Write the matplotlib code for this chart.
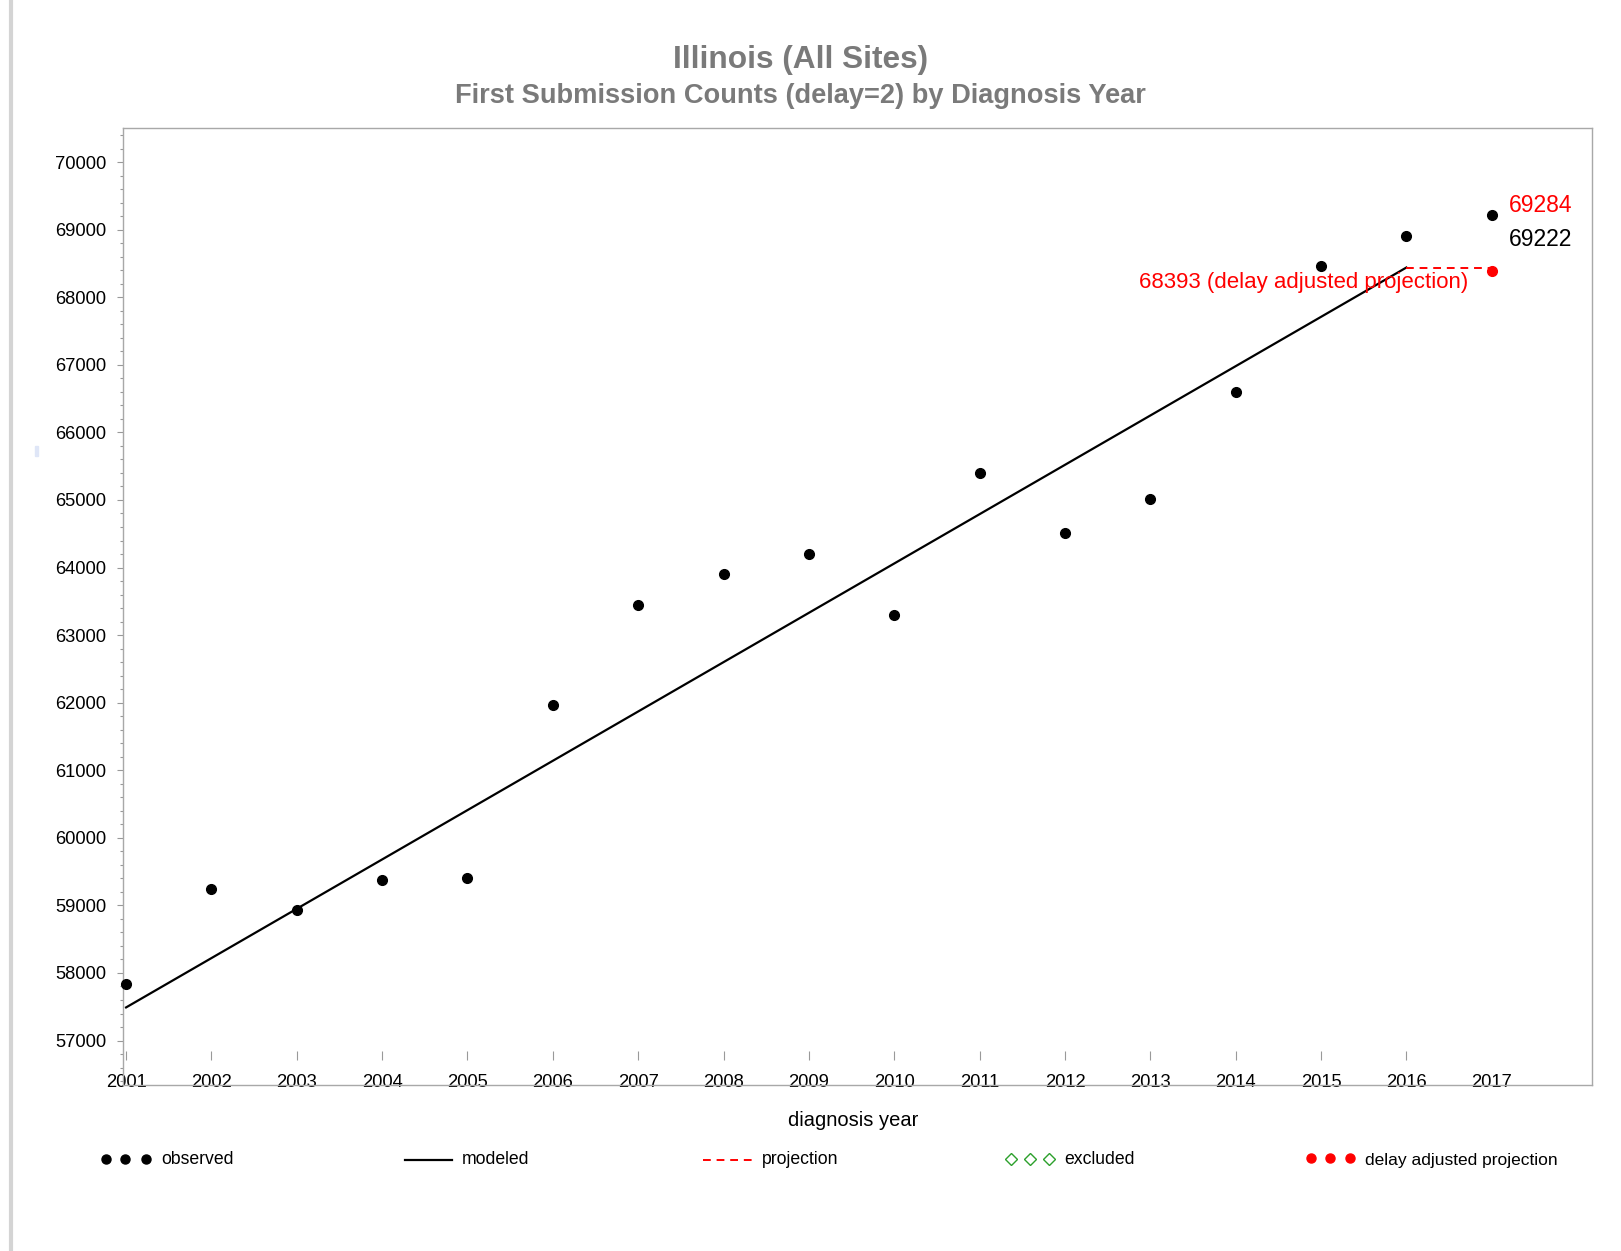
import numpy as np
import matplotlib
matplotlib.use("Agg")
import matplotlib.pyplot as plt
from matplotlib.ticker import MultipleLocator
import matplotlib.transforms as mtransforms

plt.rcParams['font.family'] = ['Liberation Sans', 'DejaVu Sans']

# Data
years = list(range(2001, 2018))
observed = [57840, 59250, 58930, 59370, 59400, 61970, 63450, 63900, 64200,
            63300, 65400, 64510, 65010, 66600, 68470, 68900, 69222]
model_years = list(range(2001, 2017))
modeled = [57490, 58220, 58950, 59680, 60410, 61140, 61870, 62600, 63330,
           64060, 64790, 65520, 66250, 66980, 67710, 68440]
projection_years = [2016, 2017]
projection = [68440, 68440]
adjusted_year = 2017
adjusted_value = 68393
projected_label = 69284

W, H = 1621, 1251
fig = plt.figure(figsize=(W / 100, H / 100), dpi=100)
fig.patch.set_facecolor('white')

def fx(px):
    return px / W

def fy(py):
    return 1 - py / H

ax = fig.add_axes([fx(123), fy(1085), fx(1592) - fx(123), fy(128) - fy(1085)])

# observed, modeled, projection
ax.plot(years, observed, 'o', color='black', ms=7, zorder=4, clip_on=False)
ax.plot(model_years, modeled, '-', color='black', lw=1.6, zorder=3)
ax.plot(projection_years, projection, '--', color='red', lw=1.4,
        dashes=(4, 3), zorder=3)
ax.plot([adjusted_year], [adjusted_value], 'o', color='red', ms=7, zorder=4)

# value labels
ax.annotate(f'{projected_label}', xy=(years[-1], observed[-1]), xytext=(12, 6.5),
            textcoords='offset points', color='red', fontsize=16.5,
            ha='left', va='center')
ax.annotate(f'{observed[-1]}', xy=(years[-1], observed[-1]), xytext=(12, -18),
            textcoords='offset points', color='black', fontsize=16.5,
            ha='left', va='center')
ax.annotate(f'{adjusted_value} (delay adjusted projection)',
            xy=(adjusted_year, adjusted_value), xytext=(-17, -8.8),
            textcoords='offset points', color='red', fontsize=16,
            ha='right', va='center')

ax.set_xlim(2000.964, 2018.175)
ax.set_ylim(56342, 70505)

ax.yaxis.set_major_locator(MultipleLocator(1000))
ax.yaxis.set_minor_locator(MultipleLocator(200))
ax.tick_params(axis='y', which='major', length=4, width=0.8, color='#999999',
               labelsize=13.2, pad=8)
ax.tick_params(axis='y', which='minor', length=2.5, width=0.8, color='#999999')

ax.set_xticks(years)
ax.tick_params(axis='x', length=0, labelsize=13.2, pad=-8)

# short tick marks floating just above the bottom edge
trans = mtransforms.blended_transform_factory(ax.transData, ax.transAxes)
ax.vlines(model_years, 0.026, 0.036, transform=trans, color='#999999', lw=0.8)

for s in ax.spines.values():
    s.set_color('#a8a8a8')
    s.set_linewidth(1.0)

# titles and axis label
fig.text(fx(801), fy(60), 'Illinois (All Sites)', ha='center', va='center',
         fontsize=22.8, fontweight='bold', color='#7a7a7a')
fig.text(fx(800), fy(96), 'First Submission Counts (delay=2) by Diagnosis Year',
         ha='center', va='center', fontsize=19.6, fontweight='bold', color='#7a7a7a')
fig.text(fx(853), fy(1121), 'diagnosis year', ha='center', va='center',
         fontsize=14.5, color='black')

# legend row drawn in figure pixels
lg = fig.add_axes([0, 0, 1, 1], facecolor='none')
lg.set_xlim(0, W)
lg.set_ylim(H, 0)
lg.axis('off')
ly = 1160
lg.plot([106, 125, 146], [ly - 1] * 3, 'o', color='black', ms=6.5)
lg.text(161, ly, 'observed', va='center', fontsize=12.7)
lg.plot([405, 452], [ly, ly], '-', color='black', lw=1.6)
lg.text(462, ly, 'modeled', va='center', fontsize=12.7)
lg.plot([703, 752], [ly, ly], '--', color='red', lw=1.4, dashes=(4, 3))
lg.text(762, ly, 'projection', va='center', fontsize=12.7)
lg.plot([1011, 1030, 1049], [ly - 1] * 3, 'D', mfc='none', mec='#2ca02c',
        mew=1.0, ms=6)
lg.text(1064, ly, 'excluded', va='center', fontsize=12.7)
lg.plot([1311, 1330, 1350], [ly - 2] * 3, 'o', color='red', ms=6.5)
lg.text(1365, ly, 'delay adjusted projection', va='center', fontsize=12.5)

# page edge on the left
lg.plot([11, 11], [0, H], '-', color='#d4d4d4', lw=3)
lg.add_patch(plt.Rectangle((35, 446), 3, 10, color='#dfe6f7'))

plt.savefig('out.png', dpi=100, facecolor='white')
